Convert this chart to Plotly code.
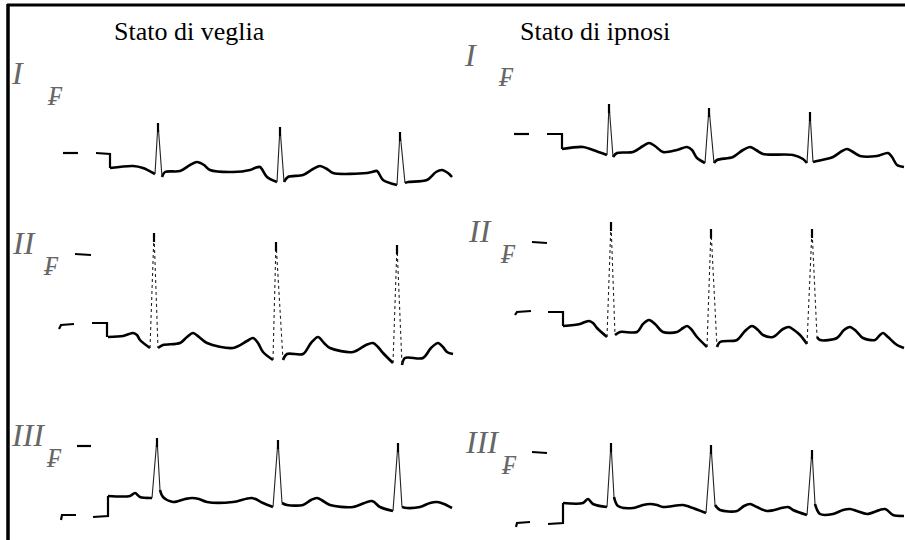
import plotly.graph_objects as go

# ---------------- data (pixel-like units) ----------------
# Stato di veglia, lead I
veglia_I_t = [110, 133, 143, 155, 162, 165, 180, 190, 197, 204, 210, 233, 250, 255, 260, 267, 277, 284, 288, 303, 313, 320, 327, 333, 367, 372, 377, 383, 397, 405, 408, 427, 436, 442, 448, 452]
veglia_I_v = [168, 166, 168, 174, 177, 172, 171, 165, 162, 165, 170, 172, 170, 168, 167, 177, 182, 182, 177, 175, 169, 166, 169, 173, 173, 172, 171, 180, 185, 183, 182, 180, 172, 170, 173, 177]
veglia_I_r_t = [158, 280, 400]
veglia_I_r_v = [123, 127, 132]
veglia_I_cal_t = [63, 78, None, 96, 110, 110]
veglia_I_cal_v = [153, 153, None, 153, 154, 168]

# Stato di veglia, lead II
veglia_II_t = [108, 123, 129, 133, 137, 140, 150, 158, 163, 180, 187, 193, 199, 207, 233, 247, 253, 258, 263, 273, 283, 287, 303, 311, 318, 324, 330, 353, 366, 373, 378, 383, 393, 402, 405, 423, 431, 438, 443, 447, 453]
veglia_II_v = [337, 336, 334, 333, 335, 340, 348, 348, 345, 343, 337, 333, 337, 343, 348, 341, 338, 343, 352, 360, 360, 354, 354, 343, 337, 343, 348, 352, 345, 343, 347, 353, 363, 365, 358, 358, 348, 343, 347, 352, 354]
veglia_II_r_t = [154, 276, 397]
veglia_II_r_v = [233, 242, 245]
veglia_II_cal_t = [59, 61, 74, None, 75, 91, None, 92, 107, 107]
veglia_II_cal_v = [329, 325, 324, None, 254, 255, None, 323, 323, 337]

# Stato di veglia, lead III
veglia_III_t = [108, 130, 135, 140, 152, 160, 163, 173, 185, 192, 199, 207, 233, 252, 263, 273, 282, 287, 303, 311, 317, 323, 330, 353, 372, 380, 393, 402, 407, 420, 430, 437, 444, 452]
veglia_III_v = [496, 496, 493, 497, 498, 490, 497, 502, 499, 498, 499, 502, 502, 498, 503, 507, 503, 505, 505, 500, 498, 501, 505, 507, 501, 507, 511, 507, 508, 507, 503, 502, 504, 508]
veglia_III_r_t = [157, 278, 398]
veglia_III_r_v = [438, 440, 443]
veglia_III_cal_t = [61, 62, 76, None, 77, 91, None, 93, 108, 108]
veglia_III_cal_v = [520, 515, 515, None, 446, 446, None, 517, 516, 496]

# Stato di ipnosi, lead I
ipnosi_I_t = [562, 583, 593, 607, 613, 617, 633, 643, 649, 655, 663, 677, 687, 692, 697, 705, 714, 717, 733, 743, 750, 756, 763, 793, 803, 807, 813, 817, 833, 842, 847, 853, 860, 877, 888, 892, 897, 904]
ipnosi_I_v = [149, 147, 150, 155, 157, 153, 152, 146, 143, 146, 152, 150, 147, 150, 158, 163, 163, 160, 157, 150, 147, 150, 154, 155, 159, 163, 162, 161, 157, 151, 149, 152, 156, 156, 153, 157, 165, 167]
ipnosi_I_r_t = [609, 709, 810]
ipnosi_I_r_v = [104, 108, 112]
ipnosi_I_cal_t = [514, 529, None, 547, 562, 562]
ipnosi_I_cal_v = [134, 134, None, 134, 134, 149]

# Stato di ipnosi, lead II
ipnosi_II_t = [563, 580, 585, 589, 593, 597, 607, 615, 620, 637, 643, 649, 655, 663, 677, 683, 687, 691, 697, 707, 717, 720, 737, 745, 752, 758, 763, 773, 783, 789, 794, 800, 807, 817, 820, 837, 844, 850, 856, 863, 875, 880, 883, 888, 897, 904]
ipnosi_II_v = [326, 324, 322, 321, 323, 328, 337, 335, 332, 332, 324, 320, 324, 332, 332, 328, 326, 329, 337, 347, 347, 342, 340, 331, 326, 330, 335, 337, 329, 327, 330, 335, 344, 337, 340, 338, 330, 327, 331, 338, 340, 335, 333, 337, 345, 348]
ipnosi_II_r_t = [611, 711, 812]
ipnosi_II_r_v = [222, 229, 229]
ipnosi_II_cal_t = [515, 517, 531, None, 532, 547, None, 548, 563, 563]
ipnosi_II_cal_v = [315, 312, 311, None, 242, 243, None, 312, 312, 326]

# Stato di ipnosi, lead III
ipnosi_III_t = [563, 583, 588, 593, 607, 614, 618, 633, 643, 650, 657, 663, 683, 690, 706, 715, 720, 737, 744, 750, 757, 767, 788, 793, 807, 815, 820, 833, 843, 850, 857, 867, 885, 893, 904]
ipnosi_III_v = [503, 503, 499, 504, 507, 497, 506, 508, 505, 504, 505, 507, 505, 507, 513, 505, 510, 511, 506, 504, 507, 511, 507, 510, 515, 504, 514, 514, 510, 509, 511, 514, 509, 515, 516]
ipnosi_III_r_t = [611, 711, 812]
ipnosi_III_r_v = [443, 445, 450]
ipnosi_III_cal_t = [516, 517, 530, None, 532, 547, None, 548, 563, 563]
ipnosi_III_cal_v = [527, 523, 522, None, 452, 453, None, 524, 523, 503]

panel_titles = ["Stato di veglia", "Stato di ipnosi"]
lead_names = ["I", "II", "III"]

leads = [
    (veglia_I_t, veglia_I_v, veglia_I_r_t, veglia_I_r_v, veglia_I_cal_t, veglia_I_cal_v, "solid"),
    (veglia_II_t, veglia_II_v, veglia_II_r_t, veglia_II_r_v, veglia_II_cal_t, veglia_II_cal_v, "dot"),
    (veglia_III_t, veglia_III_v, veglia_III_r_t, veglia_III_r_v, veglia_III_cal_t, veglia_III_cal_v, "solid"),
    (ipnosi_I_t, ipnosi_I_v, ipnosi_I_r_t, ipnosi_I_r_v, ipnosi_I_cal_t, ipnosi_I_cal_v, "solid"),
    (ipnosi_II_t, ipnosi_II_v, ipnosi_II_r_t, ipnosi_II_r_v, ipnosi_II_cal_t, ipnosi_II_cal_v, "dot"),
    (ipnosi_III_t, ipnosi_III_v, ipnosi_III_r_t, ipnosi_III_r_v, ipnosi_III_cal_t, ipnosi_III_cal_v, "solid"),
]

fig = go.Figure()

for t, v, rt, rv, ct, cv, spike_dash in leads:
    # slow part of the tracing, broken at every QRS
    mt, mv = [], []
    spikes_t, spikes_v = [], []
    tips_t, tips_v = [], []
    breaks = set()
    for r_time, r_val in zip(rt, rv):
        i = max(k for k in range(len(t)) if t[k] < r_time)
        breaks.add(i)
        spikes_t += [t[i], r_time, t[i + 1], None]
        spikes_v += [v[i], r_val, v[i + 1], None]
        tips_t += [r_time, r_time, None]
        tips_v += [r_val, r_val + 9, None]
    for k in range(len(t)):
        mt.append(t[k]); mv.append(v[k])
        if k in breaks:
            mt.append(None); mv.append(None)
    fig.add_trace(go.Scatter(x=mt, y=mv, mode="lines",
                             line=dict(color="black", width=2.6, shape="spline", smoothing=0.9),
                             hoverinfo="skip"))
    fig.add_trace(go.Scatter(x=spikes_t, y=spikes_v, mode="lines",
                             line=dict(color="#222", width=1.1, dash=spike_dash),
                             hoverinfo="skip"))
    fig.add_trace(go.Scatter(x=tips_t, y=tips_v, mode="lines",
                             line=dict(color="black", width=2.2),
                             hoverinfo="skip"))
    # calibration pulse
    fig.add_trace(go.Scatter(x=ct, y=cv, mode="lines",
                             line=dict(color="black", width=2.2),
                             hoverinfo="skip"))

annotations = []
# titles
for title, x0 in zip(panel_titles, [112, 518]):
    annotations.append(dict(x=x0, y=31, xref="x", yref="y", text=title, showarrow=False,
                            xanchor="left", yanchor="middle",
                            font=dict(family="Liberation Serif", size=26, color="black")))
# lead labels
label_pos = [(17, 73, 55, 95), (24, 243, 51, 265), (28, 435, 54, 457),
             (470, 55, 506, 76), (480, 231, 508, 253), (482, 442, 509, 464)]
for idx, (lx, ly, fx, fy) in enumerate(label_pos):
    name = lead_names[idx % 3]
    annotations.append(dict(x=lx, y=ly, xref="x", yref="y", text="<i>" + name + "</i>",
                            showarrow=False, xanchor="center", yanchor="middle",
                            font=dict(family="Liberation Serif", size=32, color="#666")))
    annotations.append(dict(x=fx, y=fy, xref="x", yref="y", text="<i>₣</i>",
                            showarrow=False, xanchor="center", yanchor="middle",
                            font=dict(family="DejaVu Serif", size=27, color="#666")))

shapes = [
    dict(type="line", xref="x", yref="y", x0=7, x1=905, y0=5, y1=5,
         line=dict(color="black", width=3)),
    dict(type="line", xref="x", yref="y", x0=8, x1=8, y0=4, y1=540,
         line=dict(color="black", width=3.5)),
]

fig.update_layout(
    width=905, height=540,
    margin=dict(l=0, r=0, t=0, b=0),
    paper_bgcolor="white", plot_bgcolor="white",
    showlegend=False,
    xaxis=dict(range=[0, 905], visible=False, fixedrange=True),
    yaxis=dict(range=[540, 0], visible=False, fixedrange=True),
    annotations=annotations,
    shapes=shapes,
)

fig.write_html("out.html")
